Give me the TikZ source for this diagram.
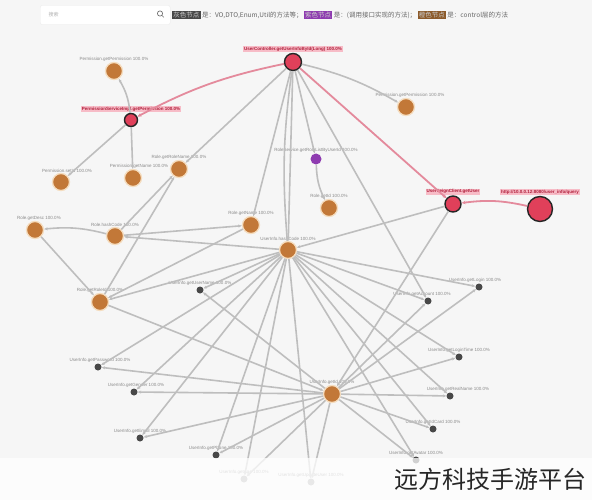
\documentclass[tikz,border=0pt]{standalone}
\usepackage{fontspec}
\setmainfont{Liberation Sans}
\newfontfamily\cjkfont{Noto Sans CJK SC}
\usetikzlibrary{arrows.meta,positioning}
\definecolor{bgcol}{HTML}{F6F6F6}
\definecolor{orangefill}{HTML}{C27838}
\definecolor{orangehalo}{HTML}{F5DDBF}
\definecolor{redfill}{HTML}{E0405A}
\definecolor{purplefill}{HTML}{8E3BB0}
\definecolor{darkfill}{HTML}{484848}
\definecolor{edgegray}{HTML}{BEBEBE}
\definecolor{edgepink}{HTML}{E48A9C}
\definecolor{lblgray}{HTML}{8A8A8A}
\definecolor{pinkbg}{HTML}{F7BCC7}
\definecolor{redtext}{HTML}{B0203C}
\definecolor{boxbrown}{HTML}{8C5A2A}
\tikzset{
  orangenode/.style={circle,fill=orangefill,draw=orangehalo,line width=1.3pt,minimum size=17pt,inner sep=0pt},
  rednode/.style={circle,fill=redfill,draw=black!85,line width=1.4pt,inner sep=0pt},
  purplenode/.style={circle,fill=purplefill,minimum size=11pt,inner sep=0pt},
  darknode/.style={circle,fill=darkfill,minimum size=7pt,inner sep=0pt},
  fadenode/.style={circle,fill=black!35,minimum size=7pt,inner sep=0pt},
  lbl/.style={text=lblgray,font=\fontsize{4.5}{5}\selectfont,inner sep=0.5pt},
  redlbl/.style={fill=pinkbg,text=redtext,font=\fontsize{4.5}{5}\selectfont\bfseries,inner sep=0.8pt},
  link/.style={draw=edgegray,line width=1.6pt,-{Stealth[length=3.5pt,width=3pt]}},
  pinklink/.style={draw=edgepink,line width=1.8pt,-{Stealth[length=4pt,width=3.5pt]}},
  keybox/.style={text=white!80!black,font=\cjkfont\fontsize{6.5}{7}\selectfont,inner sep=1.2pt},
  keytxt/.style={text=black!60,font=\cjkfont\fontsize{6.5}{7}\selectfont,inner sep=0.5pt},
}
\begin{document}
\begin{tikzpicture}[x=1pt,y=-1pt]
\useasboundingbox (0,0) rectangle (592,500);
\fill[bgcol] (0,0) rectangle (592,500);

% search box and legend
\node[draw=black!8,fill=white,rounded corners=2pt,minimum width=130pt,minimum height=19pt,anchor=west] (search) at (40,15) {};
\node[keytxt,text=black!30,font=\cjkfont\fontsize{5}{6}\selectfont,anchor=west] (hint) at (48,15) {搜索};
\draw[black!55,line width=0.7pt] (160,13.5) circle (2.6pt) (161.9,15.4) -- (163.8,17.3);
\node[keybox,fill=darkfill,anchor=west] (key1) at (172,15) {灰色节点};
\node[keytxt,right=0.5pt of key1] (txt1) {是：VO,DTO,Enum,Util的方法等；};
\node[keybox,fill=purplefill,right=0.5pt of txt1] (key2) {紫色节点};
\node[keytxt,right=0.5pt of key2] (txt2) {是：(调用接口实现的方法)；};
\node[keybox,fill=boxbrown,right=0.5pt of txt2] (key3) {橙色节点};
\node[keytxt,right=0.5pt of key3] (txt3) {是：control层的方法};

% red nodes
\node[rednode,minimum size=17pt,label={[redlbl,label distance=0.5pt]above:UserController.getUserInfoById(Long) 100.0\%}] (usrctl) at (293,62) {};
\node[rednode,minimum size=13pt,label={[redlbl,label distance=0.5pt]above:PermissionServiceImpl.getPermission 100.0\%}] (permsvc) at (131,120) {};
\node[rednode,minimum size=16pt,label={[redlbl,label distance=0.5pt]above:UserFeignClient.getUser}] (feign) at (453,204) {};
\node[rednode,minimum size=25pt,label={[redlbl,label distance=0.5pt,xshift=-0pt]above:http://10.0.0.12:8080/user\_info/query}] (remote) at (540,209) {};

% orange nodes
\node[orangenode,label={[lbl]above:Permission.getPermission 100.0\%}] (perm1) at (114,71) {};
\node[orangenode,label={[lbl,xshift=4pt]above:Permission.getPermission 100.0\%}] (perm2) at (406,107) {};
\node[orangenode,label={[lbl,xshift=6pt]above:Permission.setId 100.0\%}] (permid) at (61,182) {};
\node[orangenode,label={[lbl,xshift=6pt]above:Permission.getName 100.0\%}] (permname) at (133,178) {};
\node[orangenode,label={[lbl]above:Role.getRoleName 100.0\%}] (rolename) at (179,169) {};
\node[purplenode,label={[lbl]above:RoleService.getRoleListByUserId 100.0\%}] (rolesvc) at (316,159) {};
\node[orangenode,label={[lbl]above:Role.getId 100.0\%}] (roleid) at (329,208) {};
\node[orangenode,label={[lbl,xshift=4pt]above:Role.getDesc 100.0\%}] (roledesc) at (35,230) {};
\node[orangenode,label={[lbl]above:Role.hashCode 100.0\%}] (rolehash) at (115,236) {};
\node[orangenode,label={[lbl]above:Role.getName 100.0\%}] (rolenm) at (251,225) {};
\node[orangenode,label={[lbl]above:UserInfo.hashCode 100.0\%}] (userhash) at (288,250) {};
\node[orangenode,label={[lbl]above:Role.getRoleId 100.0\%}] (roleroleid) at (100,302) {};
\node[orangenode,label={[lbl]above:UserInfo.getId 100.0\%}] (userid) at (332,394) {};

% gray nodes
\node[darknode,label={[lbl]above:UserInfo.getUserName 100.0\%}] (uname) at (200,290) {};
\node[darknode,label={[lbl,xshift=-4pt]above:UserInfo.getLogin 100.0\%}] (ulogin) at (479,287) {};
\node[darknode,label={[lbl,xshift=-6pt]above:UserInfo.getAccount 100.0\%}] (uacct) at (428,301) {};
\node[darknode,label={[lbl,xshift=2pt]above:UserInfo.getPassword 100.0\%}] (upwd) at (98,367) {};
\node[darknode,label={[lbl]above:UserInfo.getLoginTime 100.0\%}] (utime) at (459,357) {};
\node[darknode,label={[lbl,xshift=2pt]above:UserInfo.getGender 100.0\%}] (ugender) at (134,392) {};
\node[darknode,label={[lbl,xshift=8pt]above:UserInfo.getRealName 100.0\%}] (ureal) at (450,396) {};
\node[darknode,label={[lbl]above:UserInfo.getEmail 100.0\%}] (umail) at (140,438) {};
\node[darknode,label={[lbl]above:UserInfo.getIdCard 100.0\%}] (ucard) at (433,429) {};
\node[darknode,label={[lbl]above:UserInfo.getPhone 100.0\%}] (uphone) at (216,455) {};
\node[darknode,label={[lbl]above:UserInfo.getAvatar 100.0\%}] (uavatar) at (416,460) {};
\node[fadenode,label={[lbl]above:UserInfo.getAge 100.0\%}] (uage) at (244,479) {};
\node[fadenode,label={[lbl]above:UserInfo.getUpdateUser 100.0\%}] (uupd) at (311,482) {};

% connectors
\draw[pinklink] (usrctl) to[bend right=8] (permsvc);
\draw[pinklink] (usrctl) -- (feign);
\draw[pinklink] (remote) to[bend right=10] (feign);
\draw[link] (permsvc) to[bend right=12] (perm1);
\draw[link] (permsvc) -- (permid);
\draw[link] (permsvc) -- (permname);
\draw[link] (usrctl) to[bend left=8] (perm2);
\draw[link] (rolesvc) to[bend right=12] (roleid);
\foreach \src/\dst in {usrctl/rolename,usrctl/rolenm,usrctl/rolesvc,usrctl/userhash,usrctl/uacct,
  rolehash/rolename,roleroleid/rolename,rolehash/rolenm,userhash/rolehash,roledesc/roleroleid,
  rolenm/roleroleid,userhash/roleroleid,roleroleid/userid,feign/userhash,feign/userid}
  \draw[link] (\src) -- (\dst);
\draw[link] (userhash) to[bend left=6] (usrctl);
\draw[link] (rolehash) to[bend right=10] (roledesc);
\foreach \dst in {uname,ulogin,uacct,upwd,utime,ugender,ureal,umail,ucard,uphone,uavatar,uage,uupd}{
  \draw[link] (userhash) -- (\dst);
  \draw[link] (userid) -- (\dst);
}

% faded bottom band and watermark
\fill[white,opacity=0.75] (0,458) rectangle (592,500);
\node[font=\cjkfont\fontsize{24}{26}\selectfont,text=black!85,anchor=east] (mark) at (590,479) {远方科技手游平台};
\end{tikzpicture}
\end{document}
